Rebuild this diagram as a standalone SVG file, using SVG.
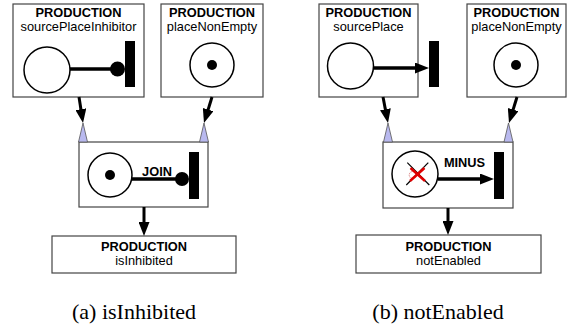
<svg xmlns="http://www.w3.org/2000/svg" width="568" height="329" viewBox="0 0 568 329">
  <defs>
    <marker id="arrow" markerUnits="userSpaceOnUse" markerWidth="14" markerHeight="11" refX="6" refY="5.5" orient="auto">
      <path d="M0,0 L14,5.5 L0,11 Z" fill="#000"/>
    </marker>
    <style>
      .box { fill: #fff; stroke: #444; stroke-width: 1.2; }
      .title { font-family: "Liberation Sans", Arial, sans-serif; font-size: 12.8px; font-weight: bold; text-anchor: middle; fill: #000; }
      .name { font-family: "Liberation Sans", Arial, sans-serif; font-size: 12.8px; text-anchor: middle; fill: #000; }
      .op { font-family: "Liberation Sans", Arial, sans-serif; font-size: 12.8px; font-weight: bold; text-anchor: middle; fill: #000; }
      .caption { font-family: "Liberation Serif", "Times New Roman", serif; font-size: 22px; text-anchor: middle; fill: #000; }
      .place { fill: #fff; stroke: #000; stroke-width: 1.5; }
      .token { fill: #000; }
      .bar { fill: #000; }
      .arc { stroke: #000; stroke-width: 3.5; fill: none; }
      .conn { stroke: #000; stroke-width: 3; fill: none; }
      .port { fill: #b9b9ef; stroke: #555; stroke-width: 0.8; }
    </style>
  </defs>

  <!-- (a) isInhibited -->
  <g id="prodSourcePlaceInhibitor">
    <rect class="box" x="13" y="4" width="131" height="93"/>
    <text class="title" x="78.5" y="17">PRODUCTION</text>
    <text class="name" x="78.5" y="31">sourcePlaceInhibitor</text>
    <circle class="place" cx="47" cy="70" r="23"/>
    <line class="arc" x1="70" y1="69" x2="114" y2="69"/>
    <circle class="token" cx="117.5" cy="69" r="7.5"/>
    <rect class="bar" x="125" y="41" width="10" height="46"/>
  </g>

  <g id="prodPlaceNonEmptyA">
    <rect class="box" x="161" y="4" width="102" height="93"/>
    <text class="title" x="212" y="17">PRODUCTION</text>
    <text class="name" x="212" y="31">placeNonEmpty</text>
    <circle class="place" cx="212" cy="65" r="22"/>
    <circle class="token" cx="212" cy="65" r="5"/>
  </g>

  <g id="joinOp">
    <rect class="box" x="79" y="142" width="129" height="65"/>
    <circle class="place" cx="110" cy="175" r="22"/>
    <circle class="token" cx="110" cy="175" r="5"/>
    <line class="arc" x1="132" y1="179" x2="178" y2="179"/>
    <circle class="token" cx="182" cy="179" r="7"/>
    <rect class="bar" x="189" y="152" width="10" height="47"/>
    <text class="op" x="157" y="176">JOIN</text>
    <polygon class="port" points="83,123 78.5,142 87.5,142"/>
    <polygon class="port" points="204,123 199.5,142 208.5,142"/>
  </g>

  <g id="prodIsInhibited">
    <rect class="box" x="52" y="236" width="184" height="37"/>
    <text class="title" x="144" y="250.5">PRODUCTION</text>
    <text class="name" x="144" y="265">isInhibited</text>
  </g>

  <!-- (b) notEnabled -->
  <g id="prodSourcePlace">
    <rect class="box" x="319" y="4" width="99" height="93"/>
    <text class="title" x="368.5" y="17">PRODUCTION</text>
    <text class="name" x="368.5" y="31">sourcePlace</text>
    <circle class="place" cx="350.5" cy="66" r="23"/>
    <line class="arc" x1="373.5" y1="68" x2="421" y2="68" marker-end="url(#arrow)"/>
    <rect class="bar" x="429" y="41" width="10" height="46"/>
  </g>

  <g id="prodPlaceNonEmptyB">
    <rect class="box" x="467" y="4" width="99" height="93"/>
    <text class="title" x="516.5" y="17">PRODUCTION</text>
    <text class="name" x="516.5" y="31">placeNonEmpty</text>
    <circle class="place" cx="516" cy="65" r="22"/>
    <circle class="token" cx="516" cy="65" r="5"/>
  </g>

  <g id="minusOp">
    <rect class="box" x="383" y="142" width="130" height="66"/>
    <circle class="place" cx="415" cy="174" r="23"/>
    <!-- crossed-out token -->
    <line x1="407.3" y1="162.7" x2="429.3" y2="185" stroke="#000" stroke-width="1.2"/>
    <line x1="428.3" y1="162.7" x2="406.3" y2="185" stroke="#000" stroke-width="1.2"/>
    <circle cx="412.7" cy="175" r="3.5" fill="none" stroke="#d06060" stroke-width="1" stroke-dasharray="1,1"/>
    <line x1="410.5" y1="168" x2="425" y2="181" stroke="#e00000" stroke-width="2.5"/>
    <line x1="424.5" y1="168" x2="410" y2="181" stroke="#e00000" stroke-width="2.5"/>
    <line class="arc" x1="438" y1="179" x2="486" y2="179" marker-end="url(#arrow)"/>
    <rect class="bar" x="494" y="152" width="10" height="47"/>
    <text class="op" x="464.5" y="167">MINUS</text>
    <polygon class="port" points="388,123 383.5,142 392.5,142"/>
    <polygon class="port" points="508.5,123 504,142 513,142"/>
  </g>

  <g id="prodNotEnabled">
    <rect class="box" x="356" y="235" width="185" height="38"/>
    <text class="title" x="448.5" y="250.5">PRODUCTION</text>
    <text class="name" x="448.5" y="265">notEnabled</text>
  </g>

  <g id="connectors">
    <line class="conn" x1="79" y1="97" x2="81.8" y2="115.1" marker-end="url(#arrow)"/>
    <line class="conn" x1="212" y1="97" x2="206.35" y2="115.35" marker-end="url(#arrow)"/>
    <line class="conn" x1="144" y1="207" x2="144" y2="228" marker-end="url(#arrow)"/>
    <line class="conn" x1="383" y1="97" x2="386.5" y2="115.15" marker-end="url(#arrow)"/>
    <line class="conn" x1="517" y1="97" x2="511.35" y2="115.35" marker-end="url(#arrow)"/>
    <line class="conn" x1="448" y1="208" x2="448" y2="227" marker-end="url(#arrow)"/>
  </g>

  <text class="caption" x="134" y="319">(a) isInhibited</text>
  <text class="caption" x="438" y="319">(b) notEnabled</text>
</svg>
